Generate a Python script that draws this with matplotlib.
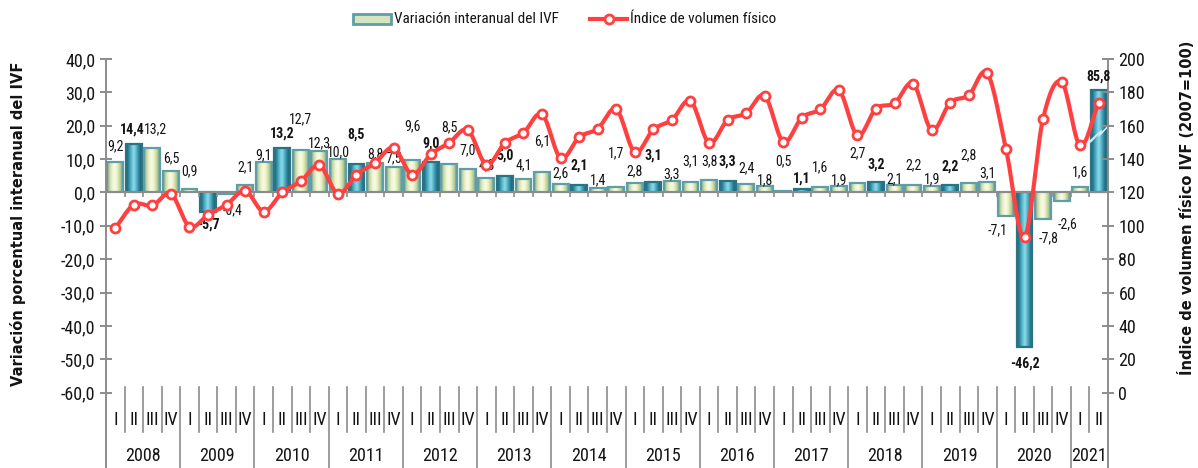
import numpy as np
import matplotlib
matplotlib.use("Agg")
import matplotlib.pyplot as plt
from matplotlib.patches import Rectangle, Polygon
from matplotlib.lines import Line2D
from matplotlib import font_manager as fm

# ---------------- data ----------------
years = ["2008", "2009", "2010", "2011", "2012", "2013", "2014", "2015",
         "2016", "2017", "2018", "2019", "2020", "2021"]
quarters_per_year = [4, 4, 4, 4, 4, 4, 4, 4, 4, 4, 4, 4, 4, 2]
quarter_names = ["I", "II", "III", "IV"]

variacion = [9.2, 14.4, 13.2, 6.5,
             0.9, -5.7, -0.4, 2.1,
             9.1, 13.2, 12.7, 12.3,
             10.0, 8.5, 8.8, 7.5,
             9.6, 9.0, 8.5, 7.0,
             4.3, 5.0, 4.1, 6.1,
             2.6, 2.1, 1.4, 1.7,
             2.8, 3.1, 3.3, 3.1,
             3.8, 3.3, 2.4, 1.8,
             0.5, 1.1, 1.6, 1.9,
             2.7, 3.2, 2.1, 2.2,
             1.9, 2.2, 2.8, 3.1,
             -7.1, -46.2, -7.8, -2.6,
             1.6, 85.8]

ivf = [98.6, 112.7, 112.2, 119.1,
       99.6, 106.6, 112.7, 121.0,
       108.6, 120.0, 126.7, 136.3,
       119.3, 130.7, 137.7, 146.8,
       130.7, 142.8, 149.8, 157.4,
       136.7, 149.8, 155.8, 166.9,
       140.7, 153.2, 158.2, 169.9,
       144.2, 157.8, 163.5, 174.9,
       149.8, 163.5, 167.5, 177.9,
       150.4, 164.9, 169.9, 181.3,
       154.2, 170.3, 173.5, 185.3,
       157.4, 173.9, 178.3, 191.4,
       146.2, 93.2, 164.3, 186.3,
       148.2, 173.9]

left_ticks = [40, 30, 20, 10, 0, -10, -20, -30, -40, -50, -60]
right_ticks = [200, 180, 160, 140, 120, 100, 80, 60, 40, 20, 0]

legend_bar = "Variación interanual del IVF"
legend_line = "Índice de volumen físico"
ylabel_left = "Variación porcentual interanual del IVF"
ylabel_right = "Índice de volumen físico IVF (2007=100)"

# ---------------- fonts ----------------
def pick(cands):
    for c in cands:
        try:
            fm.findfont(fm.FontProperties(family=c), fallback_to_default=False)
            return c
        except Exception:
            pass
    return "DejaVu Sans"

NARROW_NAME = pick(["Liberation Sans Narrow", "Roboto Condensed", "Open Sans Condensed",
                    "Noto Sans Condensed", "Lato"])
IS_NARROW = NARROW_NAME != "Lato"
NARROW = [NARROW_NAME, "DejaVu Sans"]
FS_TICK = 13 if IS_NARROW else 12
FS_LAB = 10 if IS_NARROW else 9
FS_CAT = 13 if IS_NARROW else 12
FS_LEG = 11 if IS_NARROW else 10.5

# ---------------- layout / style ----------------
W, H = 1198, 468
fig = plt.figure(figsize=(W / 100, H / 100), dpi=100)
ax_l, ax_r, ax_t, ax_b = 106, 1108, 59, 392.7
ax = fig.add_axes([ax_l / W, 1 - ax_b / H, (ax_r - ax_l) / W, (ax_b - ax_t) / H])
ax2 = ax.twinx()

n = len(variacion)
x = np.arange(n)
YMIN, YMAX = -60, 40
CAP = 30.6  # visual cap for the broken bar
ax.set_xlim(-0.5, n - 0.5)
ax.set_ylim(YMIN, YMAX)
ax2.set_ylim(0, 200)

GRAY = "#8c8c8c"
RED = "#ff4040"
TXT = "#141414"

for a in (ax, ax2):
    for s in a.spines.values():
        s.set_visible(False)
    a.set_xticks([])

qidx = []
for nq in quarters_per_year:
    qidx += list(range(nq))

def grad_colors(stops, m=40):
    pos = np.linspace(0, 1, len(stops))
    cols = np.array([matplotlib.colors.to_rgb(c) for c in stops])
    t = np.linspace(0, 1, m)
    return np.stack([np.interp(t, pos, cols[:, k]) for k in range(3)], axis=1)

light = grad_colors(["#6f9e9c", "#c9d9a2", "#eef3cf", "#fbfbe8", "#e6edbd", "#b9cf94", "#5f9497"])
dark = grad_colors(["#1d5f70", "#2f8aa0", "#5ebcd0", "#8fdbea", "#52b0c6", "#2a7f95", "#1c5a6b"])

bw = 0.86
for i, v in enumerate(variacion):
    top = min(v, CAP)
    y0, y1 = (0, top) if top >= 0 else (top, 0)
    isq2 = qidx[i] == 1
    cols = dark if isq2 else light
    img = cols[np.newaxis, :, :]
    rect = Rectangle((i - bw / 2, y0), bw, y1 - y0, transform=ax.transData,
                     facecolor="none", edgecolor="#2b7283" if isq2 else "#5f9ea8",
                     linewidth=1.6, zorder=3)
    im = ax.imshow(img, extent=[i - bw / 2, i + bw / 2, y0, y1], aspect="auto",
                   interpolation="bilinear", zorder=2)
    im.set_clip_path(rect)
    ax.add_patch(rect)

ax.set_xlim(-0.5, n - 0.5)
ax.set_ylim(YMIN, YMAX)

# break symbol on the capped bar
ib = n - 1
zz = np.array([[-0.45, 15.0], [0.05, 18.0], [0.0, 16.8], [0.6, 20.5],
               [0.1, 17.4], [0.15, 18.6], [-0.45, 15.6]])
ax.add_patch(Polygon(np.column_stack([ib + zz[:, 0], zz[:, 1]]), closed=True,
                     facecolor="white", edgecolor="#cfeaf2", linewidth=0.8, zorder=4,
                     clip_on=False))

# zero axis line with ticks
ax.plot([-0.5, n - 0.5], [0, 0], color=GRAY, lw=1.4, zorder=4, solid_capstyle="butt")
ax.vlines(np.arange(1, n) - 0.5, -1.5, 0, color=GRAY, lw=1.2, zorder=4)

# data labels (center offset in pixels from bar end)
label_dy = [15, 15, 19, 12, 18, -13, -16, 18, 7, 15, 31, 8, 7, 30, 8.5, 9,
            34, 19, 37, 19, 13, 20, 14, 31, 11, 20, 8, 34, 12, 27, 7, 21,
            19, 20, 16, 6, 30, 10, 20, 6, 30, 17, 6, 20, 7, 19, 28, 9,
            -14, -17, -20, -23, 15, 14]
label_dx = [0] * n
label_dx[1] = -2
label_dx[2] = 3
label_dx[6] = 6
label_dx[48] = -8
label_dx[50] = 6
label_dx[51] = 6
for i, v in enumerate(variacion):
    top = min(v, CAP)
    txt = f"{v:.1f}".replace(".", ",")
    ax.annotate(txt, (i, top), xytext=(label_dx[i] * 0.72, label_dy[i] * 0.72),
                textcoords="offset points", ha="center", va="center",
                fontsize=FS_LAB, family=NARROW, color=TXT,
                fontweight="bold" if qidx[i] == 1 else "normal", zorder=6)

# ---------------- smoothed IVF line ----------------
def catmull_rom(xs, ys, per=16):
    xs = np.asarray(xs, float); ys = np.asarray(ys, float)
    px = np.concatenate([[2 * xs[0] - xs[1]], xs, [2 * xs[-1] - xs[-2]]])
    py = np.concatenate([[2 * ys[0] - ys[1]], ys, [2 * ys[-1] - ys[-2]]])
    ox, oy = [], []
    t = np.linspace(0, 1, per, endpoint=False)
    for k in range(1, len(px) - 2):
        for arr, out in ((px, ox), (py, oy)):
            p0, p1, p2, p3 = arr[k - 1], arr[k], arr[k + 1], arr[k + 2]
            out.extend(0.5 * ((2 * p1) + (-p0 + p2) * t +
                              (2 * p0 - 5 * p1 + 4 * p2 - p3) * t ** 2 +
                              (-p0 + 3 * p1 - 3 * p2 + p3) * t ** 3))
    ox.append(xs[-1]); oy.append(ys[-1])
    return np.array(ox), np.array(oy)

sx, sy = catmull_rom(x, ivf)
ax2.plot(sx, sy, color=RED, lw=3.0, zorder=5, solid_capstyle="round")
ax2.plot(x, ivf, linestyle="none", marker="o", markersize=6.5,
         markerfacecolor="white", markeredgecolor=RED, markeredgewidth=2.0, zorder=6)
ax2.set_xlim(-0.5, n - 0.5)

# ---------------- y axes ----------------
ax.set_yticks(left_ticks)
ax.set_yticklabels([f"{t:.1f}".replace(".", ",") for t in left_ticks])
ax.tick_params(axis="y", direction="inout", length=9, width=1.4, color=GRAY,
               labelsize=FS_TICK, pad=3)
ax2.set_yticks(right_ticks)
ax2.set_yticklabels([str(t) for t in right_ticks])
ax2.tick_params(axis="y", direction="inout", length=9, width=1.4, color=GRAY,
                labelsize=FS_TICK, pad=3)
for lab in ax.get_yticklabels() + ax2.get_yticklabels():
    lab.set_family(NARROW)
    lab.set_color(TXT)

# vertical axis lines extending through category area
trans = ax.get_xaxis_transform()
def fy(py):
    return (ax_b - py) / (ax_b - ax_t)
ax.plot([-0.5, -0.5], [1.0, fy(468)], transform=trans, color=GRAY, lw=1.4,
        clip_on=False, zorder=4)
ax.plot([n - 0.5, n - 0.5], [1.0, fy(468)], transform=trans, color=GRAY, lw=1.4,
        clip_on=False, zorder=4)

# multi-level category axis
pos = 0
for yr, nq in zip(years, quarters_per_year):
    for q in range(nq):
        xi = pos + q
        ax.text(xi, fy(420), quarter_names[q], transform=trans, ha="center",
                va="center", fontsize=FS_CAT, family=NARROW, color=TXT)
        if q > 0:
            ax.plot([xi - 0.5, xi - 0.5], [fy(387), fy(432)], transform=trans,
                    color=GRAY, lw=1.2, clip_on=False)
    if pos > 0:
        ax.plot([pos - 0.5, pos - 0.5], [fy(387), fy(468)], transform=trans,
                color=GRAY, lw=1.2, clip_on=False)
    ax.text(pos + (nq - 1) / 2, fy(456), yr, transform=trans, ha="center",
            va="center", fontsize=FS_CAT, family=NARROW, color=TXT)
    pos += nq

# axis titles
fig.text(18 / W, 1 - 224 / H, ylabel_left, rotation=90, ha="center", va="center",
         fontsize=10.5, fontweight="bold", family="DejaVu Sans", color=TXT)
fig.text(1186 / W, 1 - 208 / H, ylabel_right, rotation=90, ha="center", va="center",
         fontsize=10.5, fontweight="bold", family="DejaVu Sans", color=TXT)

# legend (manual)
lg_y = 1 - 19 / H
fig.patches.append(Rectangle((353 / W, 1 - 24 / H), 38 / W, 10 / H, transform=fig.transFigure,
                             facecolor="#d6e4c0", edgecolor="#5f9ea8", linewidth=2))
fig.text(394 / W, lg_y, legend_bar, ha="left", va="center", fontsize=FS_LEG,
         family=NARROW, color=TXT)
fig.lines.append(Line2D([590 / W, 627 / W], [lg_y, lg_y], transform=fig.transFigure,
                        color=RED, lw=3))
fig.lines.append(Line2D([608.5 / W], [lg_y], transform=fig.transFigure, marker="o",
                        markersize=6.5, markerfacecolor="white", markeredgecolor=RED,
                        markeredgewidth=2))
fig.text(630 / W, lg_y, legend_line, ha="left", va="center", fontsize=FS_LEG,
         family=NARROW, color=TXT)

fig.savefig("out.png", dpi=100)
